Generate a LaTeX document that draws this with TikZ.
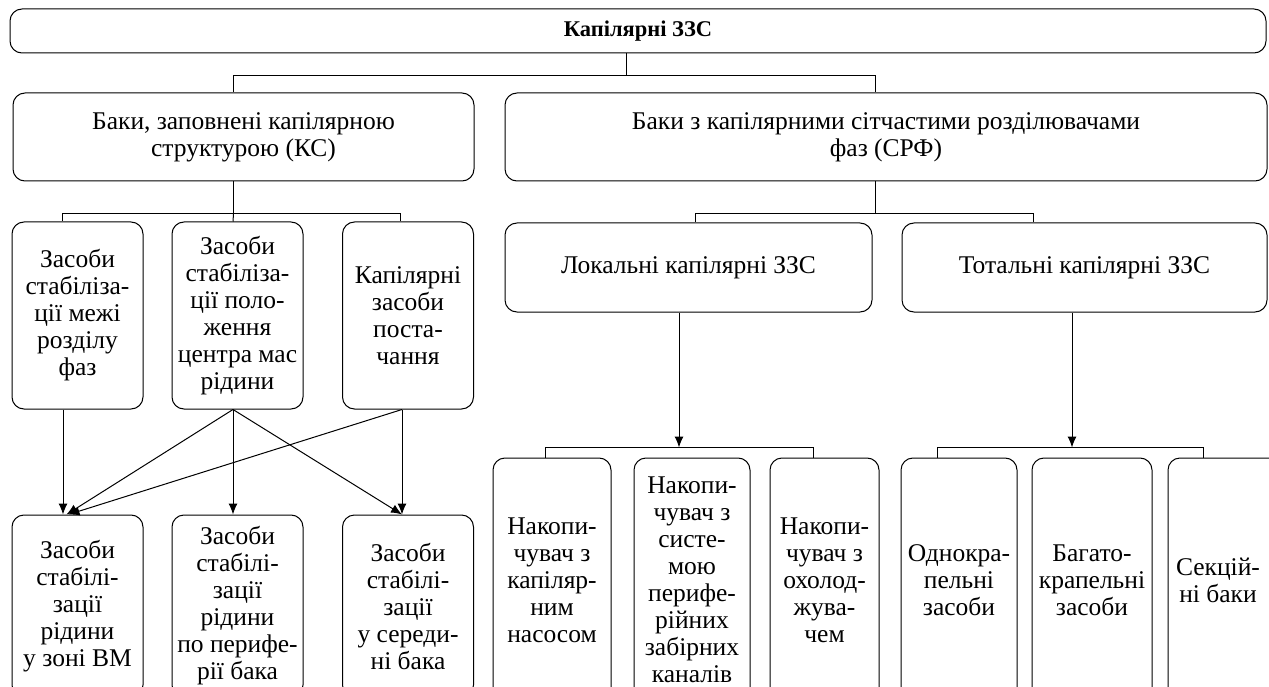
\documentclass[tikz,border=0pt]{standalone}
\usepackage{fontspec}
\setmainfont{Liberation Serif}
\usetikzlibrary{arrows.meta}

\tikzset{
  box/.style = {draw, rounded corners=12pt, align=center, inner sep=2pt, line width=1pt},
  conn/.style = {line width=1pt},
  arr/.style = {-{Latex[length=11pt,width=9pt]}, line width=1pt}
}

\begin{document}
\begin{tikzpicture}[x=1pt, y=-1pt, font=\fontsize{25.5}{27}\selectfont]
        \useasboundingbox (0,0) rectangle (1269,687);

        % top
        \node[box, font=\bfseries\fontsize{22.5}{24}\selectfont, minimum width=1256pt, minimum height=44pt] (root) at (638,31) {Капілярні ЗЗС};

        \node[box, minimum width=461pt, minimum height=88pt] (ks) at (243.5,137) {Баки, заповнені капілярною\\структурою (КС)};
        \node[box, minimum width=762pt, minimum height=88pt] (srf) at (886,137) {Баки з капілярними сітчастими розділювачами\\фаз (СРФ)};

        % left branch
        \node[box, minimum width=131pt, minimum height=187pt] (b1) at (77.5,315.5) {Засоби\\стабіліза-\\ції межі\\розділу\\фаз};
        \node[box, minimum width=131pt, minimum height=187pt] (b2) at (237.5,315.5) {Засоби\\стабіліза-\\ції поло-\\ження\\центра мас\\рідини};
        \node[box, minimum width=131pt, minimum height=187pt] (b3) at (408,315.5) {Капілярні\\засоби\\поста-\\чання};

        \node[box, minimum width=131pt, minimum height=182pt] (b4) at (77.5,606) {Засоби\\стабілі-\\зації\\рідини\\у зоні ВМ};
        \node[box, minimum width=131pt, minimum height=182pt] (b5) at (237.5,606) {Засоби\\стабілі-\\зації\\рідини\\по перифе-\\рії бака};
        \node[box, minimum width=131pt, minimum height=182pt] (b6) at (408,606) {Засоби\\стабілі-\\зації\\у середи-\\ні бака};

        % right branch
        \node[box, minimum width=367pt, minimum height=89pt] (local) at (688.5,267.5) {Локальні капілярні ЗЗС};
        \node[box, minimum width=365pt, minimum height=89pt] (total) at (1084.5,267.5) {Тотальні капілярні ЗЗС};

        \node[box, minimum width=118pt, minimum height=244pt] (b10) at (552,580) {Накопи-\\чувач з\\капіляр-\\ним\\насосом};
        \node[box, minimum width=116pt, minimum height=244pt] (b11) at (692,580) {Накопи-\\чувач з\\систе-\\мою\\перифе-\\рійних\\забірних\\каналів};
        \node[box, minimum width=109pt, minimum height=244pt] (b12) at (824.5,580) {Накопи-\\чувач з\\охолод-\\жува-\\чем};
        \node[box, minimum width=116pt, minimum height=244pt] (b7) at (959,580) {Однокра-\\пельні\\засоби};
        \node[box, minimum width=120pt, minimum height=244pt] (b8) at (1092,580) {Багато-\\крапельні\\засоби};
        \node[box, minimum width=140pt, minimum height=244pt] (b9) at (1238,580) {Секцій-\rule{40pt}{0pt}\\ні баки\rule{40pt}{0pt}};

        % tree lines
        \draw[conn] ([xshift=-12pt]root.south) -- ++(0,22) coordinate (j0) -| ([xshift=-10pt]ks.north);
        \draw[conn] (j0) -| ([xshift=-11pt]srf.north);

        \draw[conn] ([xshift=-10pt]ks.south) -- ++(0,32) coordinate (j3) -| ([xshift=-15.5pt]b1.north);
        \draw[conn] (j3) -| ([xshift=-8pt]b3.north);
        \draw[conn] (j3) -- ([xshift=-4.5pt]b2.north);

        \draw[conn] ([xshift=-11pt]srf.south) -- ++(0,32) coordinate (j4) -| ([xshift=6.5pt]local.north);
        \draw[conn] (j4) -| ([xshift=-51.5pt]total.north);

        \draw[arr] ([xshift=-9.5pt]local.south) -- ++(0,135) coordinate (j1);
        \draw[conn] ([xshift=-7pt]b10.north) |- (j1) -| ([xshift=-11.5pt]b12.north);
        \draw[arr] ([xshift=-12.5pt]total.south) -- ++(0,135) coordinate (j2);
        \draw[conn] ([xshift=-22pt]b7.north) |- (j2) -| ([xshift=-35pt]b9.north);

        % arrows between left rows
        \draw[arr] ([xshift=-14.5pt]b1.south) -- ([xshift=-14.5pt]b4.north);
        \draw[arr] ([xshift=-4.5pt]b2.south) -- ([xshift=-11pt]b4.north);
        \draw[arr] ([xshift=-4.5pt]b2.south) -- ([xshift=-4.5pt]b5.north);
        \draw[arr] ([xshift=-4.5pt]b2.south) -- ([xshift=-6pt]b6.north);
        \draw[arr] ([xshift=-6pt]b3.south) -- ([xshift=-6pt]b6.north);
        \draw[arr] ([xshift=-6pt]b3.south) -- ([xshift=-9pt]b4.north);
    \end{tikzpicture}
\end{document}
